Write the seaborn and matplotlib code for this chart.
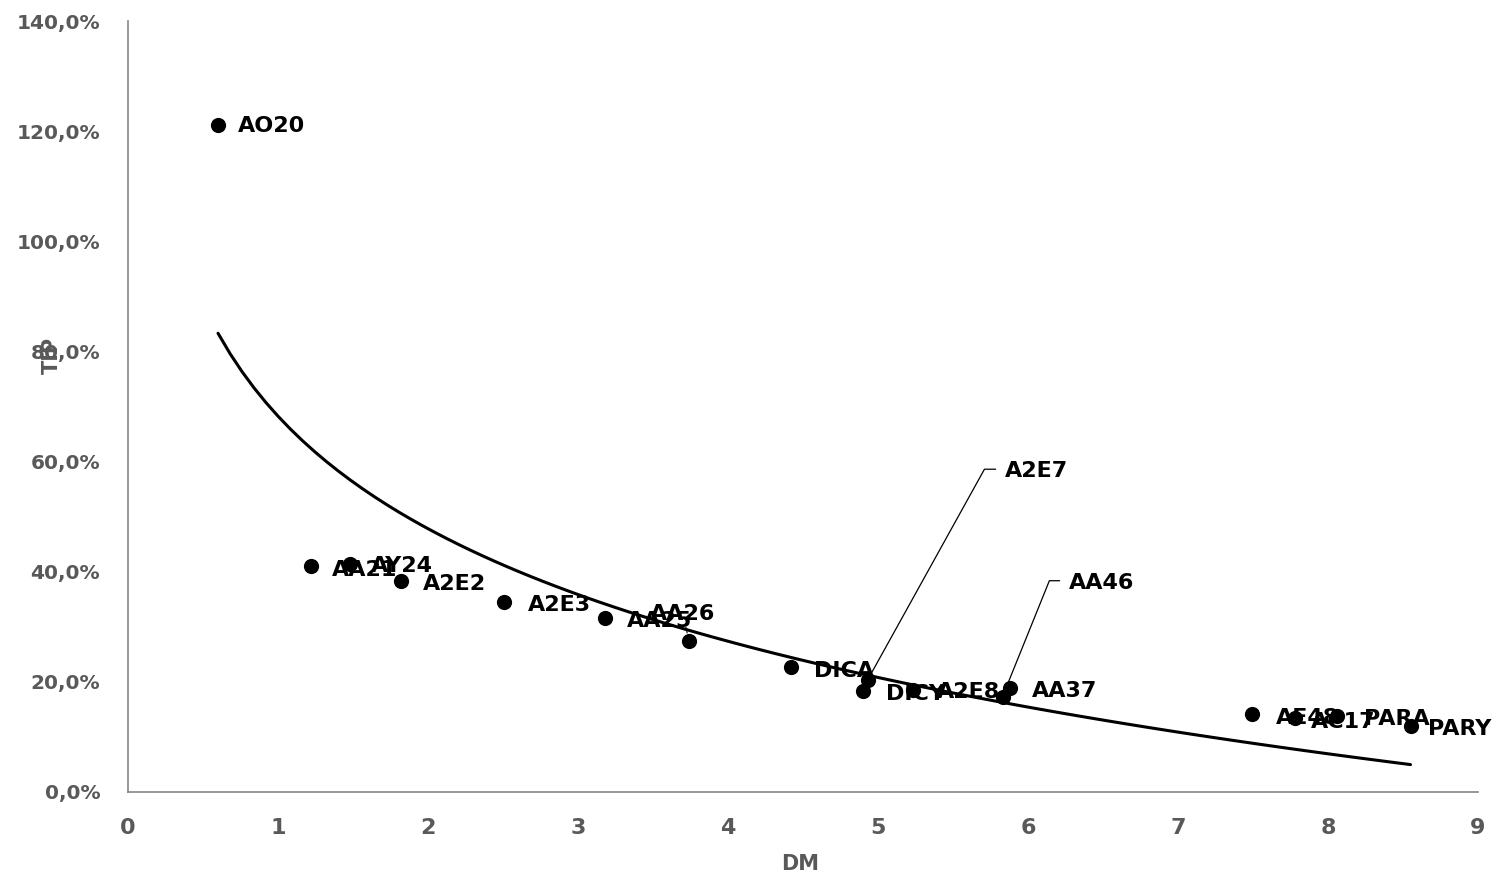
import numpy as np
import pandas as pd
import matplotlib
matplotlib.use('Agg')
import matplotlib.pyplot as plt
import matplotlib.ticker as mticker
import seaborn as sns

# values (DM on x, TIP in % on y)
labels = ['AO20', 'AA21', 'AY24', 'A2E2', 'A2E3', 'AA25', 'AA26', 'DICA', 'A2E7',
          'DICY', 'A2E8', 'AA46', 'AA37', 'AE48', 'AC17', 'PARA', 'PARY']
dm = [0.60, 1.22, 1.48, 1.82, 2.51, 3.18, 3.74, 4.42, 4.93,
      4.90, 5.23, 5.83, 5.88, 7.49, 7.78, 8.06, 8.55]
tip = [121.1, 41.0, 41.4, 38.3, 34.5, 31.6, 27.4, 22.7, 20.3,
       18.3, 18.5, 17.3, 18.9, 14.2, 13.4, 13.8, 12.0]

df = pd.DataFrame({'label': labels, 'DM': dm, 'TIP': tip})

sns.set_style('white')
plt.rcParams['font.family'] = ['DejaVu Sans']

fig = plt.figure(figsize=(14.96, 8.77), dpi=100)
ax = fig.add_axes([128 / 1496, 85 / 877, 1350 / 1496, 771 / 877])

# logarithmic trend line, as in the spreadsheet
sns.regplot(data=df, x='DM', y='TIP', logx=True, ci=None, scatter=False,
            line_kws={'color': 'black', 'lw': 2.2}, ax=ax)
sns.scatterplot(data=df, x='DM', y='TIP', color='black', s=120,
                edgecolor='black', linewidth=0, zorder=3, ax=ax)

# label placement: offset in pixels (text left edge, centre height)
offsets = {'AO20': (20, -1), 'AA21': (21, -4), 'AY24': (21, -2), 'A2E2': (22, -3),
           'A2E3': (23, -3), 'AA25': (22, -3), 'DICA': (23, -4), 'DICY': (23, -3),
           'A2E8': (24, -2), 'AA37': (22, -3), 'AE48': (24, -4), 'AC17': (16, -4),
           'PARA': (27, -3), 'PARY': (18, -3)}
lab_font = dict(fontsize=16, fontweight='bold', color='black')
for lab, x, y in zip(labels, dm, tip):
    if lab in offsets:
        ax.annotate(lab, (x, y), xytext=offsets[lab], textcoords='offset pixels',
                    ha='left', va='center', zorder=4, **lab_font)
ax.annotate('AA26', (3.74, 27.4), xytext=(-6, 27), textcoords='offset pixels',
            ha='center', va='center', zorder=4,
            arrowprops=dict(arrowstyle='-', color='black', lw=0.8, shrinkA=0, shrinkB=6),
            **lab_font)
ax.annotate('A2E7', (4.93, 20.3), xytext=(137, 209), textcoords='offset pixels',
            ha='left', va='center', zorder=4,
            arrowprops=dict(arrowstyle='-', color='black', lw=0.9, relpos=(0, 0.6),
                            shrinkA=4, shrinkB=4,
                            connectionstyle='angle,angleA=0,angleB=61,rad=0'),
            **lab_font)
ax.annotate('AA46', (5.83, 17.3), xytext=(66, 114), textcoords='offset pixels',
            ha='left', va='center', zorder=4,
            arrowprops=dict(arrowstyle='-', color='black', lw=0.9, relpos=(0, 0.6),
                            shrinkA=4, shrinkB=4,
                            connectionstyle='angle,angleA=0,angleB=68,rad=0'),
            **lab_font)

ax.set_xlim(0, 9)
ax.set_ylim(0, 140)
ax.set_xticks(range(0, 10))
ax.set_yticks(range(0, 141, 20))
ax.yaxis.set_major_formatter(mticker.FuncFormatter(lambda v, p: f'{v:.1f}%'.replace('.', ',')))

sns.despine(ax=ax)
for s in ['left', 'bottom']:
    ax.spines[s].set_color('#868686')
    ax.spines[s].set_linewidth(1.2)
ax.tick_params(axis='both', which='major', direction='out', length=7, width=1,
               color='#868686', labelcolor='#595959')
ax.tick_params(axis='y', pad=13, labelsize=14.5)
ax.tick_params(axis='x', pad=12, labelsize=16)
for t in ax.get_yticklabels():
    t.set_fontweight('bold')
for t in ax.get_xticklabels():
    t.set_fontweight('bold')

ax.set_xlabel('DM', fontsize=15, fontweight='bold', color='#595959')
ax.set_ylabel('TIP', fontsize=15, fontweight='bold', color='#595959')
ax.xaxis.set_label_coords(672 / 1350, -62 / 771)
ax.yaxis.set_label_coords(-66 / 1350, 437 / 771)
ax.set_facecolor('white')
fig.patch.set_facecolor('white')

fig.savefig('out.png', dpi=100)
